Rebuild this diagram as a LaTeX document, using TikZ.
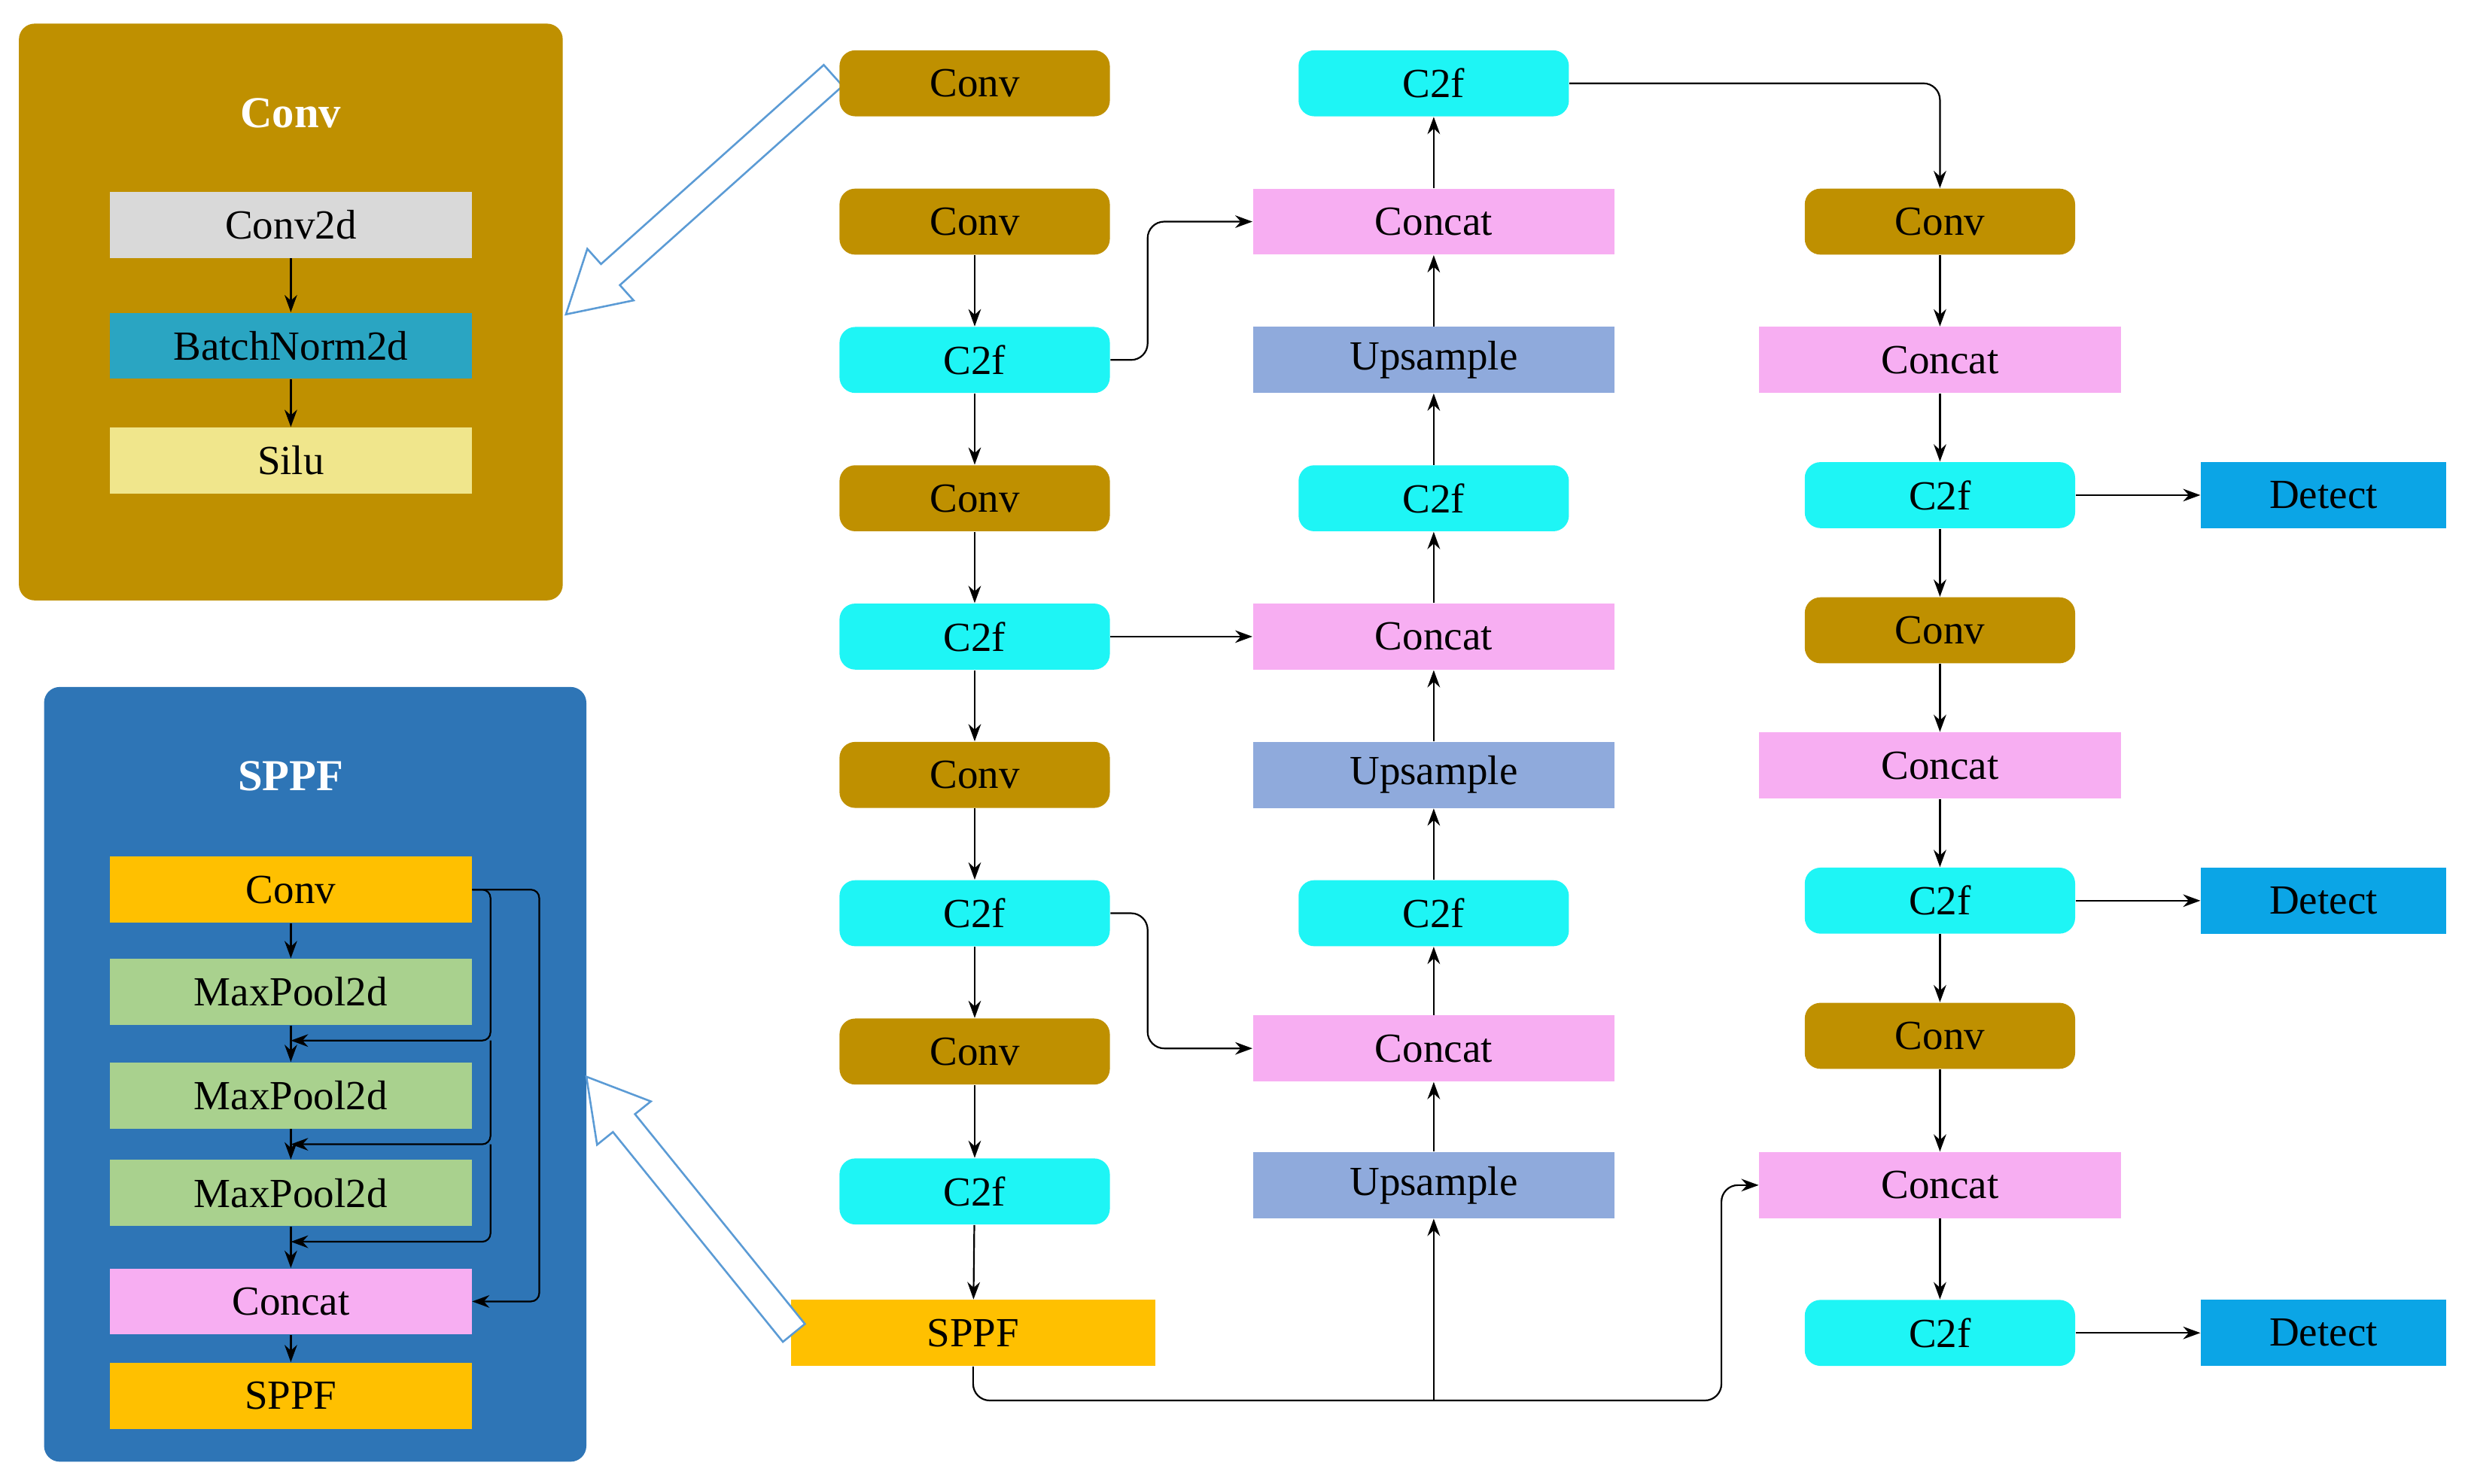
\documentclass[tikz,border=0pt]{standalone}
\usepackage{fontspec}
\setmainfont{Liberation Serif}
\usetikzlibrary{arrows.meta}
\definecolor{gold}{HTML}{BF9000}
\definecolor{cyanb}{HTML}{1EF5F5}
\definecolor{pinkb}{HTML}{F7AEF2}
\definecolor{upb}{HTML}{8FAADC}
\definecolor{detb}{HTML}{0BA5E6}
\definecolor{sppfb}{HTML}{FFC000}
\definecolor{panelb}{HTML}{2E75B6}
\definecolor{bnb}{HTML}{2AA5C2}
\definecolor{silub}{HTML}{F0E68C}
\definecolor{c2db}{HTML}{D9D9D9}
\definecolor{mpb}{HTML}{A9D18E}
\definecolor{hollow}{HTML}{5B9BD5}
\begin{document}
\begin{tikzpicture}[x=0.02cm,y=-0.02cm,
  box/.style={minimum height=0.84cm,inner sep=0pt,font=\fontsize{15}{18}\selectfont},
  rbox/.style={box,rounded corners=0.2cm,minimum width=3.44cm},
  wbox/.style={box,minimum width=4.6cm},
  conv/.style={rbox,fill=gold},
  c2f/.style={rbox,fill=cyanb},
  cat/.style={wbox,fill=pinkb},
  ups/.style={wbox,fill=upb},
  det/.style={box,minimum width=3.12cm,fill=detb},
  arr/.style={-{Stealth[length=0.22cm,width=0.16cm]},line width=0.6pt},
  ln/.style={line width=0.6pt},
  title/.style={font=\fontsize{16}{19}\selectfont\bfseries,text=white}]
\useasboundingbox (0,0) rectangle (1568,944);
% panels
\node[fill=gold,rounded corners=0.2cm,minimum width=6.92cm,minimum height=7.34cm,inner sep=0pt] (pconv) at (185,198.5) {};
\node[title] (tconv) at (185,72) {Conv};
\node[wbox,fill=c2db] (c2d) at (185,143) {Conv2d};
\node[wbox,fill=bnb] (bn) at (185,220) {BatchNorm2d};
\node[wbox,fill=silub] (silu) at (185,293) {Silu};
\draw[arr] (c2d) -- (bn);
\draw[arr] (bn) -- (silu);

\node[fill=panelb,rounded corners=0.2cm,minimum width=6.9cm,minimum height=9.86cm,inner sep=0pt] (psppf) at (200.5,683.5) {};
\node[title] (tsppf) at (185,494) {SPPF};
\node[wbox,fill=sppfb] (sconv) at (185,566) {Conv};
\node[wbox,fill=mpb] (mp1) at (185,631) {MaxPool2d};
\node[wbox,fill=mpb] (mp2) at (185,697) {MaxPool2d};
\node[wbox,fill=mpb] (mp3) at (185,759) {MaxPool2d};
\node[wbox,fill=pinkb] (scat) at (185,828) {Concat};
\node[wbox,fill=sppfb] (ssppf) at (185,888) {SPPF};
\draw[arr] (sconv) -- (mp1);
\draw[arr] (mp1) -- (mp2);
\draw[arr] (mp2) -- (mp3);
\draw[arr] (mp3) -- (scat);
\draw[arr] (scat) -- (ssppf);
\coordinate (j1) at (185,662);
\coordinate (j2) at (185,728);
\coordinate (j3) at (185,790);
\draw[arr,rounded corners=3] (sconv.east) -| (312,662) -- (j1);
\draw[arr,rounded corners=3] (312,662) |- (j2);
\draw[arr,rounded corners=3] (312,728) |- (j3);
\draw[arr,rounded corners=3] (sconv.east) -| (343,828) -- (scat.east);

% hollow arrows
\draw[hollow,line width=0.7pt,fill=white] (536,54.7) -- (394.3,181.4) -- (403,191.1) -- (360,200) -- (373.6,158.3) -- (382.3,168) -- (524,41.3) -- cycle;

% column 1
\node[conv] (cv0) at (620,53) {Conv};
\node[conv] (cv1) at (620,141) {Conv};
\node[c2f] (a1) at (620,229) {C2f};
\node[conv] (cv2) at (620,317) {Conv};
\node[c2f] (a2) at (620,405) {C2f};
\node[conv] (cv3) at (620,493) {Conv};
\node[c2f] (a3) at (620,581) {C2f};
\node[conv] (cv4) at (620,669) {Conv};
\node[c2f] (a4) at (620,758) {C2f};
\node[box,fill=sppfb,minimum width=4.64cm] (sppf) at (619,848) {SPPF};
\draw[hollow,line width=0.7pt,fill=white] (512,842.3) -- (403.9,708.8) -- (414,700.7) -- (373,685) -- (379.8,728.3) -- (389.9,720.2) -- (498,853.7) -- cycle;
\foreach \a/\b in {cv1/a1,a1/cv2,cv2/a2,a2/cv3,cv3/a3,a3/cv4,cv4/a4} \draw[arr] (\a) -- (\b);
\draw[arr] (a4) -- (sppf);

% column 2
\node[c2f] (b0) at (912,53) {C2f};
\node[cat] (k1) at (912,141) {Concat};
\node[ups] (u1) at (912,229) {Upsample};
\node[c2f] (b1) at (912,317) {C2f};
\node[cat] (k2) at (912,405) {Concat};
\node[ups] (u2) at (912,493) {Upsample};
\node[c2f] (b2) at (912,581) {C2f};
\node[cat] (k3) at (912,667) {Concat};
\node[ups] (u3) at (912,754) {Upsample};
\foreach \a/\b in {u3/k3,k3/b2,b2/u2,u2/k2,k2/b1,b1/u1,u1/k1,k1/b0} \draw[arr] (\a) -- (\b);
\draw[arr,rounded corners=6] (a1.east) -| (730,141) -- (k1.west);
\draw[arr] (a2) -- (k2);
\draw[arr,rounded corners=6] (a3.east) -| (730,667) -- (k3.west);

% column 3
\node[conv] (e1) at (1234,141) {Conv};
\node[cat] (f1) at (1234,229) {Concat};
\node[c2f] (g1) at (1234,315) {C2f};
\node[conv] (e2) at (1234,401) {Conv};
\node[cat] (f2) at (1234,487) {Concat};
\node[c2f] (g2) at (1234,573) {C2f};
\node[conv] (e3) at (1234,659) {Conv};
\node[cat] (f3) at (1234,754) {Concat};
\node[c2f] (g3) at (1234,848) {C2f};
\foreach \a/\b in {e1/f1,f1/g1,g1/e2,e2/f2,f2/g2,g2/e3,e3/f3,f3/g3} \draw[arr] (\a) -- (\b);
\node[det] (d1) at (1478,315) {Detect};
\node[det] (d2) at (1478,573) {Detect};
\node[det] (d3) at (1478,848) {Detect};
\draw[arr] (g1) -- (d1);
\draw[arr] (g2) -- (d2);
\draw[arr] (g3) -- (d3);
\draw[arr,rounded corners=6] (b0.east) -| (e1.north);

% SPPF outputs
\coordinate (jj) at (1095,891);
\draw[arr,rounded corners=6] (sppf.south) |- (jj) |- (f3.west);
\draw[arr] (u3.south |- jj) -- (u3.south);
\end{tikzpicture}
\end{document}
